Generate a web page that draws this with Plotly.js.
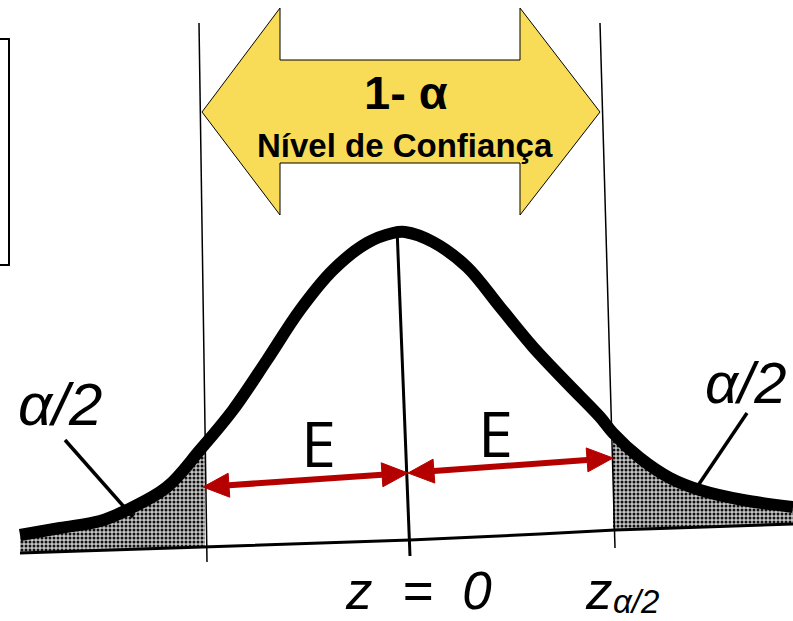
<!DOCTYPE html>
<html><head><meta charset="utf-8">
<script src="https://cdn.plot.ly/plotly-3.0.1.min.js"></script>
<style>html,body{margin:0;padding:0;background:#fff}#chart{width:793px;height:621px}</style>
</head><body><div id="chart"></div>
<script>
// ---- data (diagram units = picture pixels, y downward) ----
const curveX = [20, 60, 100, 127, 167, 200, 233, 267, 300, 333, 367, 393, 405, 433, 467, 500, 533, 567, 600, 613, 640, 670, 700, 743, 793];
const curveY = [535, 528, 521, 510, 487, 450, 410, 360, 310, 270, 243, 233, 232, 242, 267, 307, 347, 383, 417, 433, 458, 478, 490, 500, 507];
const baseX = [20, 260, 410, 540, 615, 793];
const baseY = [553, 545, 540, 534, 530, 524];
const critLeftX = [199, 207];   const critLeftY = [23, 562];
const critRightX = [600, 615];  const critRightY = [23, 548];
const centerX = [397, 410];     const centerY = [228, 556];
const leftPointerX = [65, 133]; const leftPointerY = [440, 517];
const rightPointerX = [747, 695]; const rightPointerY = [413, 490];
const bannerX = [202, 280, 280, 520, 520, 600, 520, 520, 280, 280, 202];
const bannerY = [112, 8, 60, 60, 8, 112, 215, 163, 163, 215, 112];
const boxX = [-3, 9, 9, -3];    const boxY = [39, 39, 265, 265];
const marginMidX = 408, marginMidY = 473;
const marginTipsX = [203, 613];  const marginTipsY = [487, 458];
const tailLimits = [205, 613];
const labels = {
  banner1: '1- α', banner2: 'Nível de Confiança', E: 'E',
  zero: 'z\u00a0\u00a0=\u00a0\u00a00', crit: 'z', critSub: 'α/2', tail: 'α/2'
};

function interp(xs, ys, x) {
  for (let i = 0; i < xs.length - 1; i++) {
    if (x >= xs[i] && x <= xs[i + 1]) {
      const t = (x - xs[i]) / (xs[i + 1] - xs[i]);
      return ys[i] + t * (ys[i + 1] - ys[i]);
    }
  }
  return x < xs[0] ? ys[0] : ys[ys.length - 1];
}
function tailPolygon(x0, x1) {
  const px = [], py = [];
  px.push(x0); py.push(interp(curveX, curveY, x0));
  curveX.forEach((x, i) => { if (x > x0 && x < x1) { px.push(x); py.push(curveY[i]); } });
  px.push(x1); py.push(interp(curveX, curveY, x1));
  px.push(x1); py.push(interp(baseX, baseY, x1));
  for (let i = baseX.length - 1; i >= 0; i--) if (baseX[i] > x0 && baseX[i] < x1) { px.push(baseX[i]); py.push(baseY[i]); }
  px.push(x0); py.push(interp(baseX, baseY, x0));
  return {px, py};
}
function head(tx, ty, fx, fy, len, hw) {
  const dx = tx - fx, dy = ty - fy, d = Math.hypot(dx, dy);
  const ux = dx / d, uy = dy / d;
  const bx = tx - ux * len, by = ty - uy * len;
  return {x: [tx, bx - uy * hw, bx + uy * hw, tx], y: [ty, by + ux * hw, by - ux * hw, ty], bx, by};
}

const RED = '#b50000';
const traces = [];
const lt = tailPolygon(curveX[0], tailLimits[0]);
const rt = tailPolygon(tailLimits[1], curveX[curveX.length - 1]);
[lt, rt].forEach(p => traces.push({x: p.px, y: p.py, mode: 'lines', fill: 'toself',
  fillcolor: '#a8a8a8', fillpattern: {shape: '.', fgcolor: '#111', bgcolor: '#c4c4c4', size: 4, solidity: 0.45},
  line: {width: 0}}));
traces.push({x: baseX, y: baseY, mode: 'lines', line: {color: '#000', width: 3}});
traces.push({x: critLeftX, y: critLeftY, mode: 'lines', line: {color: '#000', width: 1.5}});
traces.push({x: critRightX, y: critRightY, mode: 'lines', line: {color: '#000', width: 1.5}});
traces.push({x: centerX, y: centerY, mode: 'lines', line: {color: '#000', width: 3}});
traces.push({x: leftPointerX, y: leftPointerY, mode: 'lines', line: {color: '#000', width: 3.5}});
traces.push({x: rightPointerX, y: rightPointerY, mode: 'lines', line: {color: '#000', width: 3.5}});
traces.push({x: curveX, y: curveY, mode: 'lines', line: {color: '#000', width: 12, shape: 'spline', smoothing: 1}});
traces.push({x: bannerX, y: bannerY, mode: 'lines', fill: 'toself', fillcolor: '#f8dc58', line: {color: '#000', width: 1}});
traces.push({x: boxX, y: boxY, mode: 'lines', line: {color: '#000', width: 2}});
for (let i = 0; i < 2; i++) {
  const h1 = head(marginTipsX[i], marginTipsY[i], marginMidX, marginMidY, 26, 12);
  const h2 = head(marginMidX, marginMidY, marginTipsX[i], marginTipsY[i], 26, 12);
  traces.push({x: [h2.bx, h1.bx], y: [h2.by, h1.by], mode: 'lines', line: {color: RED, width: 6}});
  traces.push({x: h1.x, y: h1.y, mode: 'lines', fill: 'toself', fillcolor: RED, line: {color: RED, width: 1}});
  traces.push({x: h2.x, y: h2.y, mode: 'lines', fill: 'toself', fillcolor: RED, line: {color: RED, width: 1}});
}

const sans = 'Liberation Sans, Arial, sans-serif';
function ann(text, x, y, size, family, style, xanchor, yanchor) {
  return {text, x, y, xref: 'x', yref: 'y', showarrow: false, borderpad: 0,
    font: {family: family || sans, size, color: '#000', style: style || 'normal'},
    xanchor: xanchor || 'center', yanchor: yanchor || 'middle'};
}
const annotations = [
  ann('<b>' + labels.banner1 + '</b>', 406, 92, 47),
  ann('<b>' + labels.banner2 + '</b>', 405, 145, 33),
  ann(labels.E, 318, 442, 63, 'Open Sans'),
  ann(labels.E, 495, 432, 63, 'Open Sans'),
  ann(labels.zero, 418, 621, 53, sans, 'italic', 'center', 'bottom'),
  ann(labels.crit, 584, 621, 53, sans, 'italic', 'left', 'bottom'),
  ann(labels.critSub, 612, 621, 33, sans, 'italic', 'left', 'bottom'),
  ann(labels.tail, 60, 404, 60, sans, 'italic'),
  ann(labels.tail, 704, 382, 58, sans, 'italic', 'left')
];

Plotly.newPlot('chart', traces, {
  width: 793, height: 621, margin: {l: 0, r: 0, t: 0, b: 0},
  paper_bgcolor: '#fff', plot_bgcolor: '#fff', showlegend: false, hovermode: false,
  xaxis: {range: [0, 793], visible: false, fixedrange: true},
  yaxis: {range: [621, 0], visible: false, fixedrange: true},
  annotations
}, {staticPlot: true});
</script></body></html>
